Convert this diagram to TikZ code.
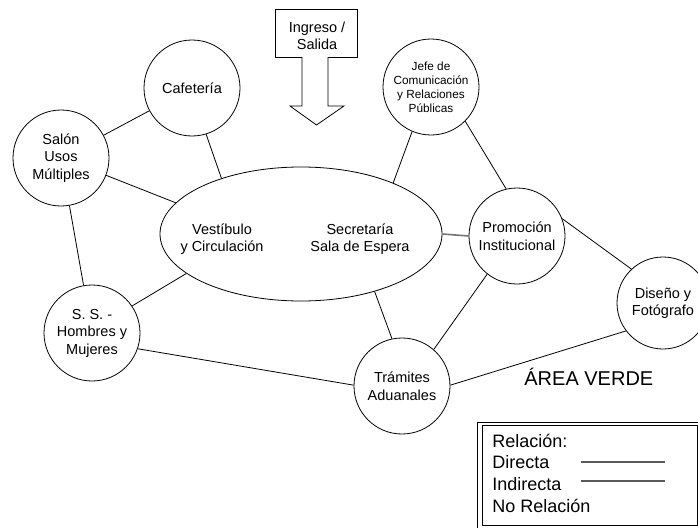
\documentclass[tikz,border=0pt]{standalone}
\usepackage{fontspec}
\setmainfont{Liberation Sans}
\usetikzlibrary{shapes.geometric}

\newcommand{\roomfont}{\fontsize{14.5}{17.5}\selectfont}
\newcommand{\chieffont}{\fontsize{11.8}{14}\selectfont}
\newcommand{\legendfont}{\fontsize{18}{21.7}\selectfont}

\begin{document}
\begin{tikzpicture}[x=1pt, y=-1pt, line width=0.8pt,
  room/.style={draw, circle, minimum size=96pt, inner sep=0pt, align=center, font=\roomfont},
  hallway/.style={draw, ellipse, minimum width=282pt, minimum height=134pt, inner sep=0pt},
  halltext/.style={align=center, inner sep=0pt, font=\roomfont},
  weaklink/.style={line width=1.6pt, black!55},
  legendtext/.style={anchor=base west, inner sep=0pt, font=\legendfont},
  legendline/.style={line width=1.2pt, black!65}
]
\useasboundingbox (0,0) rectangle (698,527);

% entrance arrow
\draw (275.5,9.5) -- (357.5,9.5) -- (357.5,57.5) -- (328,57.5) -- (328,106) -- (344,106)
  -- (316.5,125) -- (290,106) -- (302,106) -- (302,57.5) -- (275.5,57.5) -- cycle;
\node[halltext] (entry) at (317,36) {Ingreso /\\ Salida};

% central hall
\node[hallway] (hall) at (301,234) {};
\node[halltext] (vest) at (222,239) {Vestíbulo\\ y Circulación};
\node[halltext] (secr) at (360,239) {Secretaría\\ Sala de Espera};

% rooms
\node[room] (cafe)   at (192,88)  {Cafetería};
\node[room] (salon)  at (61,158)  {Salón\\ Usos\\ Múltiples};
\node[room, font=\chieffont] (jefe) at (431,87) {Jefe de\\ Comunicación\\ y Relaciones\\ Públicas};
\node[room] (promo)  at (517,236) {Promoción\\ Institucional};
\node[room, minimum size=92pt] (diseno) at (663,303) {Diseño y\\ Fotógrafo};
\node[room] (ss)     at (92,333)  {S. S. -\\ Hombres y\\ Mujeres};
\node[room] (tram)   at (402,386) {Trámites\\ Aduanales};

\node[anchor=base west, inner sep=0pt, font=\fontsize{20}{24}\selectfont] (green) at (524,385) {ÁREA VERDE};

% relations
\draw (cafe) -- (salon);
\draw (cafe.-73) -- (hall.145);
\draw (salon.-21) -- (hall.166);
\draw (salon) -- (ss);
\draw (ss.34) -- (hall.199);
\draw (ss.-19) -- (tram.179);
\draw (hall.-38) -- (tram.102);
\draw (tram.49) -- (promo.232);
\draw (tram.1) -- (diseno.217);
\draw (promo.21) -- (diseno.133);
\draw (jefe.-45) -- (promo.103);
\draw (jefe.247) -- (hall.29);
\draw[weaklink] (hall.east) -- (promo.west);

% legend
\draw (477,422) rectangle (702,531);
\draw (482,425) rectangle (697,525);
\node[legendtext] (reltitle)    at (492,447) {Relación:};
\node[legendtext] (reldirect)   at (492,468) {Directa};
\node[legendtext] (relindirect) at (492,490) {Indirecta};
\node[legendtext] (relnone)     at (492,512) {No Relación};
\draw[legendline] (581,462) -- (665,462);
\draw[legendline] (581,481) -- (665,481);

\end{tikzpicture}
\end{document}
